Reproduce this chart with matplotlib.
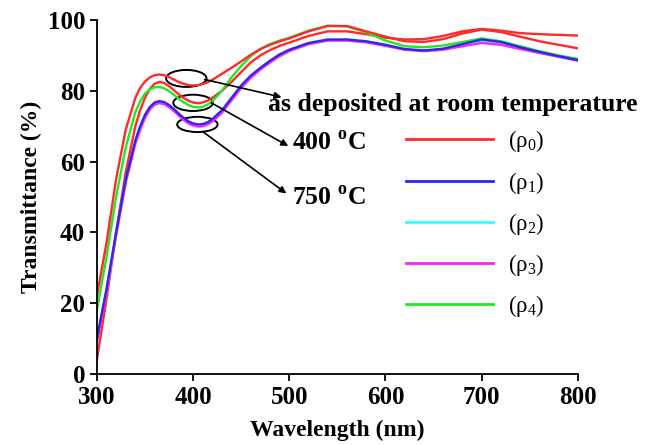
import numpy as np
from matplotlib import pyplot as plt
from matplotlib.patches import Ellipse

plt.rcParams['font.family'] = ['Liberation Serif', 'DejaVu Serif']
plt.rcParams['mathtext.fontset'] = 'custom'
plt.rcParams['mathtext.rm'] = 'Liberation Serif'
plt.rcParams['mathtext.bf'] = 'Liberation Serif:bold'

wl = [300, 310, 320, 330, 340, 345, 350, 355, 360, 365, 370, 375, 380, 385, 390,
      395, 400, 405, 410, 415, 420, 430, 440, 450, 460, 470, 480, 490, 500, 520,
      540, 560, 580, 600, 620, 640, 660, 680, 700, 720, 740, 760, 780, 800]

# as deposited (rho0, red)
t_r0 = [22, 37, 55, 69, 78, 80.8, 82.6, 83.8, 84.4, 84.6, 84.4, 83.9, 83.2, 82.5, 82,
        81.6, 81.5, 81.6, 81.9, 82.4, 83.1, 84.8, 86.5, 88.3, 90.2, 91.8, 93, 94, 94.8, 96.8,
        98.3, 98.3, 96.8, 95.3, 94, 93.8, 94.6, 96.2, 97.3, 96.6, 95.3, 94, 93, 92]
# second red curve (400 C group, no legend entry)
t_r1 = [4, 21, 40, 57, 70, 74.5, 78, 80.5, 82, 82.5, 82.2, 81.3, 80.2, 79, 78,
        77.2, 76.7, 76.5, 76.7, 77.2, 78, 80, 82.5, 85.3, 88, 90, 91.5, 92.7, 93.6, 95.5,
        96.8, 96.8, 96, 95, 94.5, 94.6, 95.5, 96.8, 97.5, 97, 96.3, 96, 95.8, 95.6]
t_p1 = [10, 24, 40, 55, 66, 70, 73.2, 75.4, 76.7, 77.1, 76.8, 76, 74.9, 73.6, 72.4,
        71.4, 70.8, 70.5, 70.6, 71.1, 72, 74.5, 78, 81.5, 84.3, 86.5, 88.5, 90.3, 91.6, 93.5,
        94.5, 94.5, 94, 93, 91.8, 91.4, 91.9, 93.2, 94.5, 93.8, 92.3, 91, 89.8, 88.7]
t_p2 = [9.5, 23.5, 39.5, 54.5, 65.5, 69.5, 72.8, 75, 76.4, 76.8, 76.5, 75.7, 74.6, 73.3, 72.1,
        71.1, 70.5, 70.2, 70.3, 70.8, 71.6, 74.2, 77.6, 81.2, 84, 86.3, 88.3, 90, 91.4, 93.3,
        94.3, 94.3, 93.8, 92.8, 91.7, 91.3, 91.7, 92.9, 94, 93.4, 92, 90.8, 89.7, 88.6]
t_p3 = [9, 23, 39, 54, 65, 69, 72.3, 74.7, 76.1, 76.5, 76.2, 75.4, 74.3, 73, 71.8,
        70.8, 70.2, 69.9, 70, 70.5, 71.3, 73.8, 77.3, 80.8, 83.7, 86, 88, 89.8, 91.2, 93.2,
        94.2, 94.2, 93.7, 92.7, 91.6, 91.2, 91.6, 92.6, 93.5, 93, 91.8, 90.7, 89.6, 88.5]
t_p4 = [18, 33, 50, 64, 74, 77, 79.2, 80.4, 81, 81.1, 80.7, 79.9, 78.9, 77.8, 76.8,
        76, 75.5, 75.3, 75.5, 76.1, 77, 80, 83.8, 87, 89.8, 91.8, 93.2, 94.2, 95, 97,
        98.4, 98.2, 96.5, 94.2, 92.6, 92.3, 92.8, 93.8, 94.8, 94, 92.6, 91.2, 90, 89]

labels = ['(ρ$_0$)', '(ρ$_1$)', '(ρ$_2$)', '(ρ$_3$)', '(ρ$_4$)']

red = '#ff2a2a'
blue = '#2a2ae6'
cyan = '#33ffff'
magenta = '#ff22ff'
green = '#22e822'

fig = plt.figure(figsize=(6.5, 4.45), dpi=100)
ax = fig.add_axes([0.149, 0.1596, 0.740, 0.7954])

lw = 1.7
ax.plot(wl, t_r1, c=red, lw=lw)
ax.plot(wl, t_p4, c=green, lw=lw)
ax.plot(wl, t_r0, c=red, lw=lw)
ax.plot(wl, t_p2, c=cyan, lw=lw)
ax.plot(wl, t_p3, c=magenta, lw=lw)
ax.plot(wl, t_p1, c=blue, lw=lw)

# legend handles
h = []
for c in [red, blue, cyan, magenta, green]:
    h += ax.plot([], [], c=c, lw=2)
leg = ax.legend(h, labels, loc='upper left', bbox_to_anchor=(0.6, 0.752),
                frameon=False, handlelength=3.8, labelspacing=0.66,
                handletextpad=0.64, prop={'size': 16.5})

# ellipses and arrows
for (cx, cy, w, hh) in [(393, 83.5, 42, 4.8), (400, 76.6, 41, 4.6), (404.5, 70.5, 42, 4.3)]:
    ax.add_patch(Ellipse((cx, cy), w, hh, fill=False, ec='k', lw=1.4))

akw = dict(arrowstyle='-|>', color='k', lw=1.2, mutation_scale=10, shrinkA=0, shrinkB=0)
ax.annotate('', xy=(492, 78.2), xytext=(412, 83.2), arrowprops=akw)
ax.annotate('', xy=(499, 64.4), xytext=(419, 76.6), arrowprops=akw)
ax.annotate('', xy=(497, 51), xytext=(410, 68.5), arrowprops=akw)

tkw = dict(fontsize=18.5, fontweight='bold', va='baseline', ha='left')
ax.text(477.5, 74.2, 'as deposited at room temperature', **tkw)
ax.text(502.5, 63.3, '400 $^{\\mathbf{o}}$C', **tkw)
ax.text(502.5, 47.7, '750 $^{\\mathbf{o}}$C', **tkw)

ax.set_xlim(300, 800)
ax.set_ylim(0, 100)
ax.set_xticks([300, 400, 500, 600, 700, 800])
ax.set_yticks([0, 20, 40, 60, 80, 100])
for s in ['top', 'right']:
    ax.spines[s].set_visible(False)
for s in ['left', 'bottom']:
    ax.spines[s].set_linewidth(1.3)
ax.tick_params(direction='out', length=5, width=1.3, labelsize=18)
for t in ax.get_xticklabels() + ax.get_yticklabels():
    t.set_fontweight('bold')
ax.set_xlabel('Wavelength (nm)', fontsize=17, fontweight='bold', labelpad=8)
ax.set_ylabel('Transmittance (%)', fontsize=17, fontweight='bold', labelpad=4)

fig.savefig('out.png', dpi=100)
